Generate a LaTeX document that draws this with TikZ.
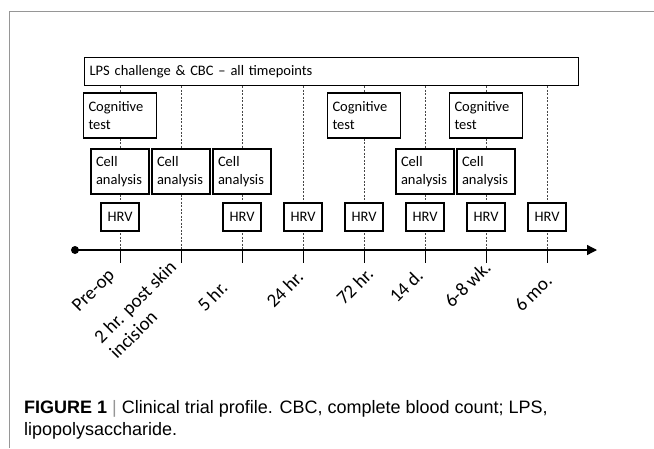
\documentclass[tikz,border=0pt]{standalone}
\usepackage{fontspec}
\setmainfont{Carlito}
\newfontfamily\capfont{Liberation Sans}
\usetikzlibrary{positioning,calc,arrows.meta}
\definecolor{framegray}{RGB}{150,150,150}
\definecolor{guidegray}{RGB}{70,70,70}

\begin{document}
\begin{tikzpicture}[
    x=1pt, y=-1pt,
    font=\fontsize{14.5}{17.7}\selectfont, >=Latex,
    box/.style={draw, line width=1.1pt, fill=white, align=left, inner xsep=5pt, inner ysep=0pt},
    cogbox/.style={box, text width=63pt, minimum height=45pt},
    cellbox/.style={box, text width=48pt, minimum height=45pt},
    hrvbox/.style={box, align=center, minimum width=38pt, minimum height=28pt, inner xsep=0pt},
    guide/.style={guidegray, line width=0.7pt, dash pattern=on 2pt off 1.5pt},
    tlbl/.style={rotate=45, anchor=base west, align=left, inner sep=0pt, font=\fontsize{19}{22}\selectfont}
  ]
    \useasboundingbox (0,0) rectangle (654,448);
    % frame of the figure
    \draw[framegray, line width=1pt] (654,11) -- (9,11) -- (9,448);

    \node[box, anchor=north west, text width=484pt, minimum height=28pt] (lps) at (84,57)
      {LPS challenge \& CBC -- all timepoints};

    % timepoints on the axis
    \foreach \i in {1,...,8}
      \coordinate (t\i) at ({120+61*(\i-1)},250);
    \foreach \i in {1,...,8}
      \draw[guide] (t\i |- lps.south) -- (t\i);

    % Cognitive test
    \node[cogbox] (cog1) at (t1 |- 0,115.5) {Cognitive\\test};
    \node[cogbox] (cog5) at (t5 |- 0,115.5) {Cognitive\\test};
    \node[cogbox] (cog7) at (t7 |- 0,115.5) {Cognitive\\test};
    % Cell analysis
    \foreach \i in {1,2,3,6,7}
      \node[cellbox] (cell\i) at (t\i |- 0,171.5) {Cell\\analysis};
    % HRV
    \foreach \i in {1,3,4,5,6,7,8}
      \node[hrvbox] (hrv\i) at (t\i |- 0,217) {HRV};

    % time axis
    \node[circle, fill, inner sep=0pt, minimum size=8pt] (origin) at (75,250) {};
    \coordinate (tend) at (597,250);
    \draw[line width=1.3pt, -{Triangle[length=10pt,width=10pt]}] (origin.center) -- (tend);
    \foreach \i in {1,...,8}
      \draw[line width=0.8pt] (t\i) -- ++(0,13);

    % labels below the ticks
    \foreach \i/\dx/\dy/\txt in {1/-41/313/Pre-op, 3/-37/313/5 hr., 4/-29/309/24 hr.,
        5/-20/306/72 hr., 6/-28/304/14 d., 7/-34/309/6-8 wk., 8/-25/313/6 mo.}
      \node[tlbl] (l\i) at ($(t\i |- 0,\dy)+(\dx,0)$) {\txt};
    \node[tlbl, anchor=north west] (l2) at ($(t2 |- 0,335)+(-89,0)$) {2 hr. post skin\\incision};

    % caption
    \node[anchor=north west, align=left, inner sep=0pt, font=\capfont\fontsize{18}{22}\selectfont] (cap) at (24,400)
      {\textbf{FIGURE 1} {\color{framegray}|} Clinical trial profile. CBC, complete blood count; LPS,\\lipopolysaccharide.};
  \end{tikzpicture}
\end{document}
